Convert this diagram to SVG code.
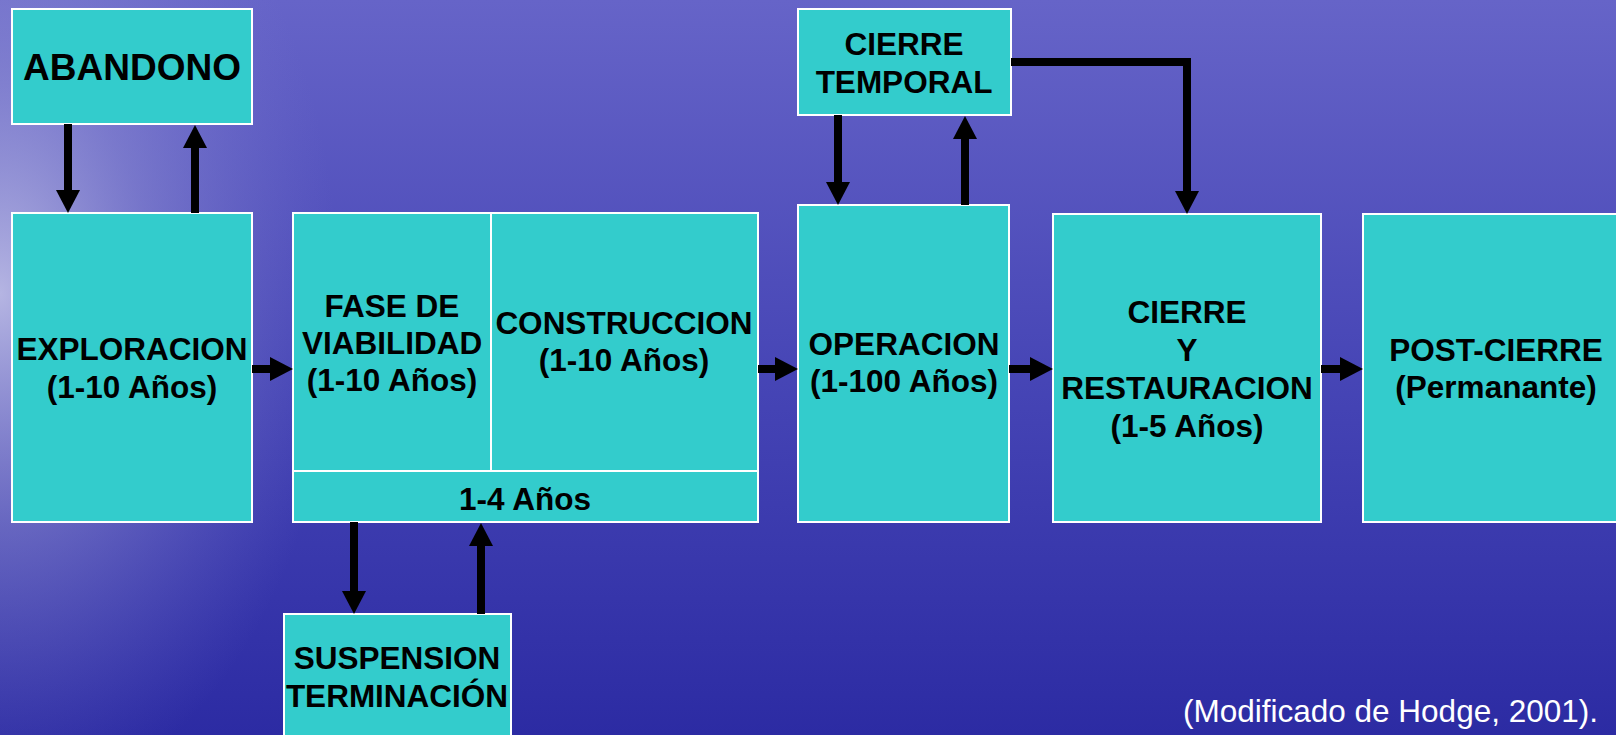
<svg xmlns="http://www.w3.org/2000/svg" width="1616" height="735" viewBox="0 0 1616 735">
  <defs>
    <linearGradient id="bg" x1="0" y1="0" x2="0" y2="1">
      <stop offset="0" stop-color="#6664c8"/>
      <stop offset="0.5" stop-color="#4746b6"/>
      <stop offset="1" stop-color="#2c2ba3"/>
    </linearGradient>
    <radialGradient id="glow" cx="0" cy="0.4" r="0.7" gradientUnits="objectBoundingBox" gradientTransform="translate(0,0.4) scale(0.3,1) translate(0,-0.4)">
      <stop offset="0" stop-color="#d8d8f0" stop-opacity="0.75"/>
      <stop offset="0.45" stop-color="#a8a8dc" stop-opacity="0.4"/>
      <stop offset="1" stop-color="#8080d0" stop-opacity="0"/>
    </radialGradient>
    <marker id="ah" viewBox="0 0 23 24" refX="1" refY="12" markerWidth="23" markerHeight="24" markerUnits="userSpaceOnUse" orient="auto">
      <path d="M0,0 L23,12 L0,24 z" fill="#000"/>
    </marker>
    <style>
      .box { fill: #33cccc; stroke: #ffffff; stroke-width: 2; }
      .t { font-family: "Liberation Sans", Arial, sans-serif; font-weight: bold; font-size: 31.5px; fill: #000; text-anchor: middle; }
      .big { font-size: 37px; }
      .c { fill: none; stroke: #000; stroke-width: 8; marker-end: url(#ah); }
      .note { font-family: "Liberation Sans", Arial, sans-serif; font-size: 31.5px; fill: #ffffff; text-anchor: end; }
    </style>
  </defs>

  <rect x="0" y="0" width="1616" height="735" fill="url(#bg)"/>
  <rect x="0" y="0" width="1616" height="735" fill="url(#glow)"/>

  <g id="abandono">
    <rect class="box" x="12" y="9" width="240" height="115"/>
    <text class="t big" x="132" y="80">ABANDONO</text>
  </g>

  <g id="exploracion">
    <rect class="box" x="12" y="213" width="240" height="309"/>
    <text class="t" x="132" y="360">EXPLORACION</text>
    <text class="t" x="132" y="398">(1-10 Años)</text>
  </g>

  <g id="fase-viabilidad">
    <rect class="box" x="293" y="213" width="198" height="258"/>
    <text class="t" x="392" y="317">FASE DE</text>
    <text class="t" x="392" y="354">VIABILIDAD</text>
    <text class="t" x="392" y="391">(1-10 Años)</text>
  </g>

  <g id="construccion">
    <rect class="box" x="491" y="213" width="267" height="258"/>
    <text class="t" x="624" y="334">CONSTRUCCION</text>
    <text class="t" x="624" y="371">(1-10 Años)</text>
  </g>

  <g id="periodo-1-4">
    <rect class="box" x="293" y="471" width="465" height="51"/>
    <text class="t" x="525" y="510">1-4 Años</text>
  </g>

  <g id="suspension">
    <rect class="box" x="284" y="614" width="227" height="140"/>
    <text class="t" x="397" y="669">SUSPENSION</text>
    <text class="t" x="397" y="707">TERMINACIÓN</text>
  </g>

  <g id="cierre-temporal">
    <rect class="box" x="798" y="9" width="213" height="106"/>
    <text class="t" x="904" y="55">CIERRE</text>
    <text class="t" x="904" y="93">TEMPORAL</text>
  </g>

  <g id="operacion">
    <rect class="box" x="798" y="205" width="211" height="317"/>
    <text class="t" x="904" y="355">OPERACION</text>
    <text class="t" x="904" y="392">(1-100 Años)</text>
  </g>

  <g id="cierre-restauracion">
    <rect class="box" x="1053" y="214" width="268" height="308"/>
    <text class="t" x="1187" y="323">CIERRE</text>
    <text class="t" x="1187" y="361">Y</text>
    <text class="t" x="1187" y="399">RESTAURACION</text>
    <text class="t" x="1187" y="437">(1-5 Años)</text>
  </g>

  <g id="post-cierre">
    <rect class="box" x="1363" y="214" width="270" height="308"/>
    <text class="t" x="1496" y="361">POST-CIERRE</text>
    <text class="t" x="1496" y="398">(Permanante)</text>
  </g>

  <g id="connectors">
    <line class="c" x1="68" y1="124" x2="68" y2="191"/>
    <line class="c" x1="195" y1="213" x2="195" y2="147"/>
    <line class="c" x1="252" y1="369" x2="271" y2="369"/>
    <line class="c" x1="354" y1="522" x2="354" y2="592"/>
    <line class="c" x1="481" y1="614" x2="481" y2="545"/>
    <line class="c" x1="758" y1="369" x2="776" y2="369"/>
    <line class="c" x1="838" y1="115" x2="838" y2="183"/>
    <line class="c" x1="965" y1="205" x2="965" y2="138"/>
    <path class="c" d="M1011,62 H1187 V192"/>
    <line class="c" x1="1009" y1="369" x2="1031" y2="369"/>
    <line class="c" x1="1321" y1="369" x2="1341" y2="369"/>
  </g>

  <text class="note" x="1598" y="722">(Modificado de Hodge, 2001).</text>
</svg>
